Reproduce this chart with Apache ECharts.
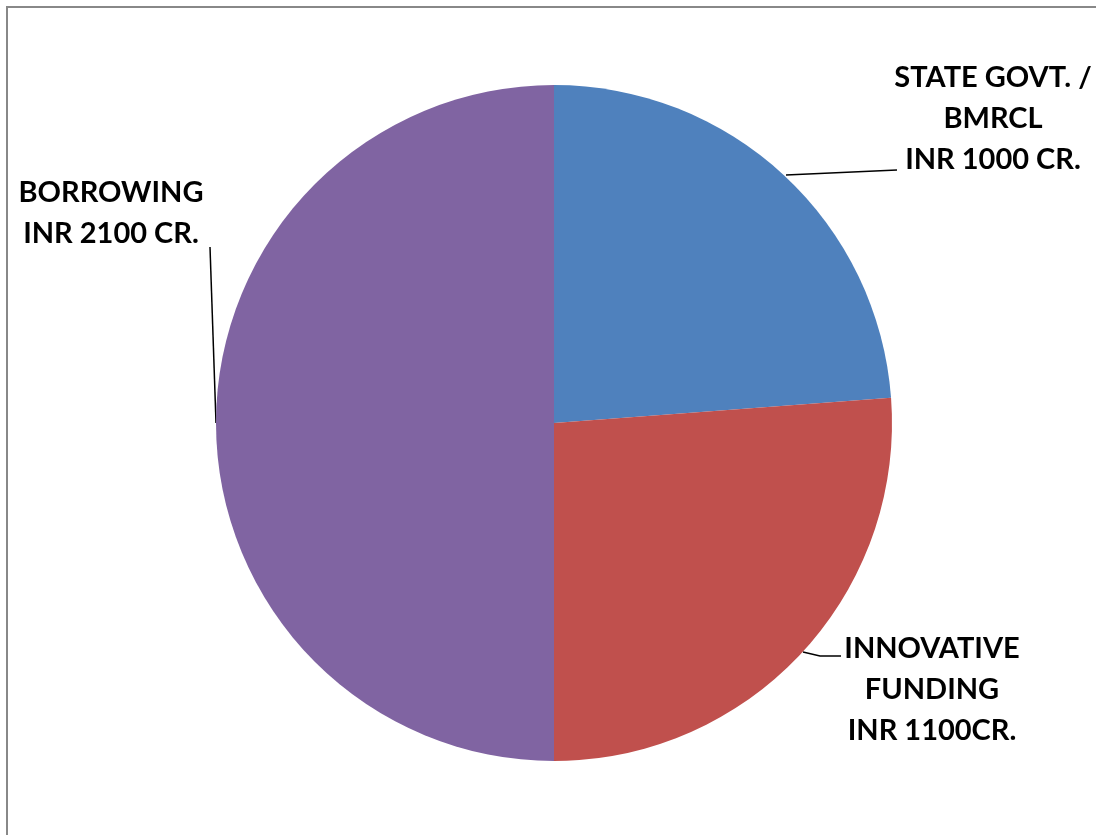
<!DOCTYPE html>
<html>
<head>
<meta charset="utf-8">
<script src="https://cdn.jsdelivr.net/npm/echarts@6/dist/echarts.min.js"></script>
<style>
  html, body { margin: 0; padding: 0; background: #fff; }
  #chart { width: 1096px; height: 835px; }
</style>
</head>
<body>
<div id="chart"></div>
<script>
// Funding sources (INR crore)
const categories = ['STATE GOVT. /\nBMRCL', 'INNOVATIVE\nFUNDING', 'BORROWING'];
const values = [1000, 1100, 2100];
const labelTexts = ['STATE GOVT. /\nBMRCL\nINR 1000 CR.', 'INNOVATIVE\nFUNDING\nINR 1100CR.', 'BORROWING\nINR 2100 CR.'];
const colors = ['#4F81BD', '#C0504D', '#8064A2'];

// Label block centres and leader-line paths
const labelSpots = [
  { x: 993, y: 119, line: [[786, 175], [897, 170]] },
  { x: 932, y: 690, line: [[803, 652], [820, 656], [841, 656]] },
  { x: 111, y: 213, line: [[216, 423], [210, 247]] }
];

const chart = echarts.init(document.getElementById('chart'), null, { renderer: 'canvas' });

chart.setOption({
  animation: false,
  backgroundColor: '#ffffff',
  graphic: [{
    type: 'rect',
    shape: { x: 7, y: 7, width: 1200, height: 900 },
    style: { fill: 'none', stroke: '#888888', lineWidth: 2 },
    silent: true
  }],
  series: [{
    type: 'pie',
    center: [554, 423],
    radius: 338,
    startAngle: 90,
    clockwise: true,
    data: categories.map((name, i) => ({
      name: name,
      value: values[i],
      itemStyle: { color: colors[i] },
      label: { formatter: labelTexts[i] }
    })),
    itemStyle: { borderWidth: 0 },
    label: {
      show: true,
      position: 'outside',
      color: '#000',
      fontFamily: 'Lato',
      fontWeight: 'bold',
      fontSize: 29,
      lineHeight: 41,
      align: 'center',
      overflow: 'none',
      width: 260
    },
    labelLine: {
      show: true,
      lineStyle: { color: '#000', width: 1.5 }
    },
    labelLayout: function (p) {
      const s = labelSpots[p.dataIndex];
      return {
        x: s.x,
        y: s.y,
        align: 'center',
        verticalAlign: 'middle',
        labelLinePoints: s.line
      };
    }
  }]
});
</script>
</body>
</html>
